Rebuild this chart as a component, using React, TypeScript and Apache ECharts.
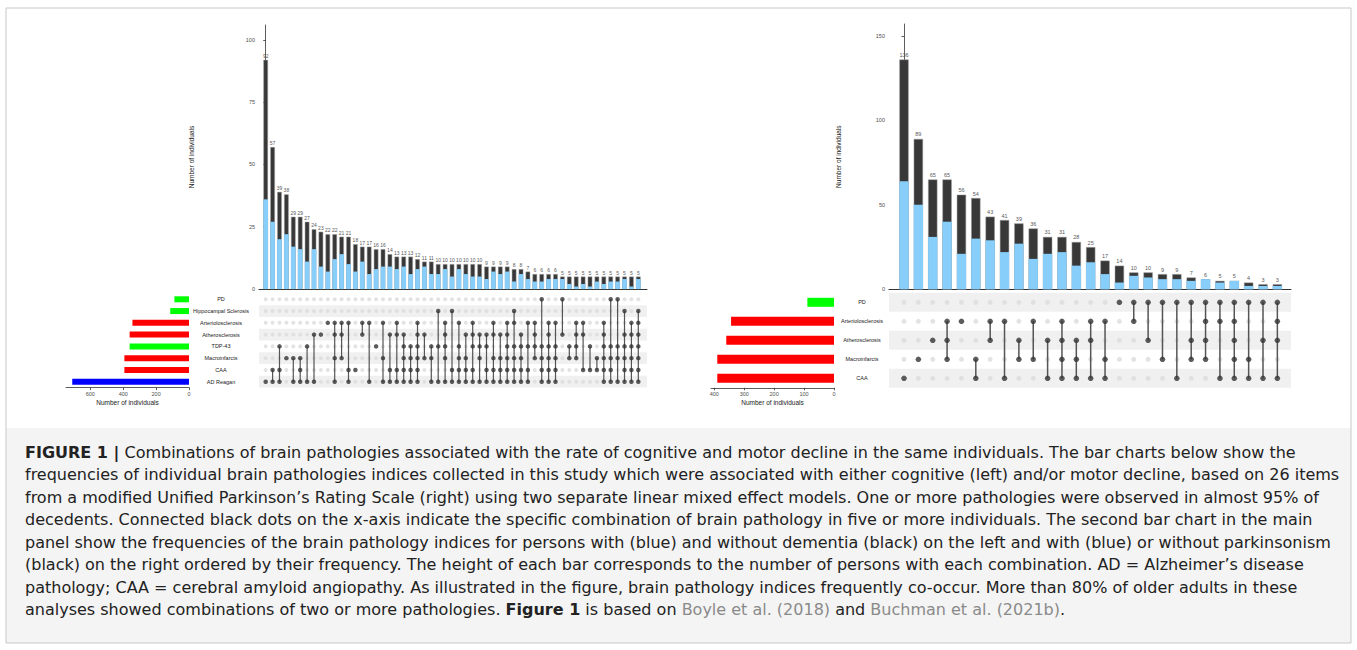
import React, { useEffect, useRef } from "react";
import * as echarts from "echarts";

// ---------- LEFT PANEL (cognitive decline) ----------
const leftSets = ["AD Reagan", "CAA", "Macroinfarcts", "TDP-43", "Atherosclerosis", "Arteriolosclerosis", "Hippocampal Sclerosis", "PD"];
const leftSetSizes = [710, 393, 393, 361, 361, 344, 114, 89];
const leftSetColors = ["#0000FF", "#FF0000", "#FF0000", "#00FF00", "#FF0000", "#FF0000", "#00FF00", "#00FF00"];
const leftTotals = [92, 57, 39, 38, 29, 29, 27, 24, 23, 22, 22, 21, 21, 18, 17, 17, 16, 16, 14, 13, 13, 13, 12, 11, 11,
  10, 10, 10, 10, 10, 10, 10, 9, 9, 9, 9, 8, 8, 7, 6, 6, 6, 6, 5, 5, 5, 5, 5, 5, 5, 5, 5, 5, 5, 5];
const leftWithDementia = [36, 27, 20, 22, 17, 16, 11, 16, 9, 7, 12, 14, 10, 7, 11, 6, 8, 9, 9, 8, 9, 6, 8, 9, 6,
  6, 8, 5, 8, 6, 5, 5, 4, 7, 6, 7, 3, 6, 4, 3, 3, 4, 4, 4, 2, 1, 2, 1, 3, 2, 3, 3, 4, 1, 4];
// set indices (0 = AD Reagan ... 7 = PD)
const leftCombos = [
  [0], [1, 0], [3, 1, 0], [2], [2, 0], [2, 1, 0], [3, 0], [4, 0], [4], [5],
  [5, 4, 2, 0], [5, 4, 2], [5, 1, 0], [1], [5, 4], [5, 0], [3], [5, 2, 0], [4, 1, 0], [5, 4, 1, 0],
  [4, 3, 2, 1, 0], [3, 2, 1, 0], [5, 4, 3, 2, 1, 0], [4, 2], [3, 2, 0], [6, 3, 0], [5, 4, 3, 2, 0], [6, 1, 0], [5, 3, 2, 1, 0], [4, 2, 1, 0],
  [5, 4, 3, 1, 0], [4, 3, 2, 0], [4, 3, 1, 0], [5, 4, 2, 1, 0], [4, 2, 1, 0], [5, 4, 3, 2, 1, 0], [6, 5, 3, 2, 1, 0], [4, 3, 2, 1, 0], [5, 3, 1, 0], [5, 4, 3, 2],
  [7, 3, 2, 1, 0], [5, 4, 3, 2, 1, 0], [5, 3, 2, 1, 0], [7, 4], [3, 2], [5, 4, 3, 2], [5, 4, 1], [3, 1], [2, 1], [5, 4, 3, 2, 1, 0],
  [7, 3, 2, 1, 0], [7, 3, 2, 0], [6, 4, 3, 2, 1, 0], [5, 4, 3, 2, 1, 0], [6, 5, 4, 3, 2, 1, 0],
];

// ---------- RIGHT PANEL (motor decline) ----------
const rightSets = ["CAA", "Macroinfarcts", "Atherosclerosis", "Arteriolosclerosis", "PD"];
const rightSetSizes = [390, 390, 360, 344, 89];
const rightSetColors = ["#FF0000", "#FF0000", "#FF0000", "#FF0000", "#00FF00"];
const rightTotals = [136, 89, 65, 65, 56, 54, 43, 41, 39, 36, 31, 31, 28, 25, 17, 14, 10, 10, 9, 9, 7, 6, 5, 5, 4, 3, 3];
const rightWithParkinsonism = [64, 50, 31, 40, 21, 30, 29, 22, 27, 18, 21, 22, 14, 16, 9, 4, 8, 7, 6, 6, 5, 6, 4, 5, 2, 2, 2];
// set indices (0 = CAA ... 4 = PD)
const rightCombos = [
  [0], [1], [2], [3, 2, 1], [3], [1, 0], [3, 2], [3, 0], [2, 1], [3, 1],
  [2, 0], [3, 2, 1, 0], [2, 1, 0], [3, 2, 0], [3, 1, 0], [4], [4, 3], [4, 2], [4, 1], [4, 0],
  [4, 2, 1], [4, 3, 2, 1], [4, 3, 0], [4, 3, 2, 1, 0], [4, 1, 0], [4, 2, 0], [4, 3, 2, 0],
];

const captionLines = [
  "{b|FIGURE 1 |} Combinations of brain pathologies associated with the rate of cognitive and motor decline in the same individuals. The bar charts below show the",
  "frequencies of individual brain pathologies indices collected in this study which were associated with either cognitive (left) and/or motor decline, based on 26 items",
  "from a modified Unified Parkinson\u2019s Rating Scale (right) using two separate linear mixed effect models. One or more pathologies were observed in almost 95% of",
  "decedents. Connected black dots on the x-axis indicate the specific combination of brain pathology in five or more individuals. The second bar chart in the main",
  "panel show the frequencies of the brain pathology indices for persons with (blue) and without dementia (black) on the left and with (blue) or without parkinsonism",
  "(black) on the right ordered by their frequency. The height of each bar corresponds to the number of persons with each combination. AD = Alzheimer\u2019s disease",
  "pathology; CAA = cerebral amyloid angiopathy. As illustrated in the figure, brain pathology indices frequently co-occur. More than 80% of older adults in these",
  "analyses showed combinations of two or more pathologies. {b|Figure 1} is based on {l|Boyle et al. (2018)} and {l|Buchman et al. (2021b)}.",
];

const FONT = "'Liberation Sans', Arial, sans-serif";
const CAP_FONT = "'DejaVu Sans', sans-serif";
const CAP_SIZE = 16;

type Geo = {
  left: number; width: number; topY: number; baseY: number; yMax: number; yTicks: number[];
  xMin: number; xMax: number; matTop: number; matH: number; ssLeft: number; ssW: number;
  ssMax: number; ssTicks: number[]; barW: number; dot: number; ssBarW: number; labelMargin: number;
  nameGap: number; lineW: number; valFont: number;
};

function panel(k: number, sets: string[], sizes: number[], colors: string[], totals: number[], blue: number[], combos: number[][], g: Geo) {
  const gi = k * 3;
  const grid = [
    { left: g.left, top: g.topY, width: g.width, height: g.baseY - g.topY },
    { left: g.left, top: g.matTop, width: g.width, height: g.matH },
    { left: g.ssLeft, top: g.matTop, width: g.ssW, height: g.matH },
  ];
  const tickLabel = { fontSize: 5.5, color: "#4d4d4d", fontFamily: FONT };
  const nameStyle = { fontSize: 6.5, color: "#1a1a1a", fontFamily: FONT };
  const xAxis = [
    { gridIndex: gi, type: "value", min: g.xMin, max: g.xMax, axisLine: { show: true, onZero: false, lineStyle: { color: "#333", width: 1 } }, axisTick: { show: false }, axisLabel: { show: false }, splitLine: { show: false } },
    { gridIndex: gi + 1, type: "value", min: g.xMin, max: g.xMax, show: false, splitLine: { show: false } },
    {
      gridIndex: gi + 2, type: "value", inverse: true, min: 0, max: g.ssMax,
      axisLine: { show: true, onZero: false, lineStyle: { color: "#333", width: 0.8 } },
      axisTick: { show: true, length: 2.5, customValues: g.ssTicks, lineStyle: { color: "#333", width: 0.8 } },
      axisLabel: { ...tickLabel, customValues: g.ssTicks, margin: 3 },
      splitLine: { show: false },
      name: "Number of individuals", nameLocation: "middle", nameGap: 11.5, nameTextStyle: nameStyle,
    },
  ];
  const yAxis = [
    {
      gridIndex: gi, type: "value", min: 0, max: g.yMax,
      axisLine: { show: true, lineStyle: { color: "#333", width: 0.8 } },
      axisTick: { show: true, length: 2.5, customValues: g.yTicks, lineStyle: { color: "#333", width: 0.8 } },
      axisLabel: { ...tickLabel, customValues: g.yTicks, margin: 4 },
      splitLine: { show: false },
      name: "Number of individuals", nameLocation: "middle", nameGap: g.nameGap, nameTextStyle: nameStyle,
    },
    {
      gridIndex: gi + 1, type: "category", data: sets,
      axisLine: { show: false }, axisTick: { show: false },
      axisLabel: { fontSize: 5.5, color: "#1a1a1a", fontFamily: FONT, align: "center", margin: g.labelMargin },
      splitLine: { show: false },
      splitArea: { show: true, areaStyle: { color: ["#f0f0f0", "rgba(255,255,255,0)"] } },
    },
    { gridIndex: gi + 2, type: "category", data: sets, show: false },
  ];
  const light: number[][] = [];
  const dark: number[][] = [];
  const lines: number[][] = [];
  combos.forEach((c, i) => {
    sets.forEach((_, r) => {
      if (c.includes(r)) dark.push([i, r]);
      else light.push([i, r]);
    });
    if (c.length > 1) lines.push([i, Math.min(...c), Math.max(...c)]);
  });
  const series: any[] = [
    {
      type: "bar", xAxisIndex: gi, yAxisIndex: gi, data: totals.map((v, i) => [i, v]),
      barWidth: g.barW, barGap: "-100%",
      itemStyle: { color: "#383838", borderColor: "#a0a0a0", borderWidth: 0.5 },
      label: { show: true, position: "top", distance: 1.5, fontSize: g.valFont, color: "#595959", fontFamily: FONT, formatter: (p: any) => String(p.value[1]) },
    },
    {
      type: "bar", xAxisIndex: gi, yAxisIndex: gi, data: blue.map((v, i) => [i, v]),
      barWidth: g.barW, barGap: "-100%", itemStyle: { color: "#87CEFA" },
    },
    {
      type: "scatter", xAxisIndex: gi + 1, yAxisIndex: gi + 1, data: light, symbolSize: g.dot,
      itemStyle: { color: "#dcdcdc" }, silent: true, z: 2,
    },
    {
      type: "custom", xAxisIndex: gi + 1, yAxisIndex: gi + 1, data: lines, z: 3, silent: true,
      encode: { x: 0, y: [1, 2] },
      renderItem: (_p: any, api: any) => {
        const a = api.coord([api.value(0), api.value(1)]);
        const b = api.coord([api.value(0), api.value(2)]);
        return { type: "line", shape: { x1: a[0], y1: a[1], x2: b[0], y2: b[1] }, style: { stroke: "#555", lineWidth: g.lineW } };
      },
    },
    {
      type: "scatter", xAxisIndex: gi + 1, yAxisIndex: gi + 1, data: dark, symbolSize: g.dot + 0.5,
      itemStyle: { color: "#333" }, silent: true, z: 4,
    },
    {
      type: "bar", xAxisIndex: gi + 2, yAxisIndex: gi + 2, barWidth: g.ssBarW,
      data: sizes.map((v, i) => ({ value: v, itemStyle: { color: colors[i] } })),
    },
  ];
  return { grid, xAxis, yAxis, series };
}

function buildOption() {
  const L = panel(0, leftSets, leftSetSizes, leftSetColors, leftTotals, leftWithDementia, leftCombos, {
    left: 259, width: 388, topY: 25, baseY: 289, yMax: 106, yTicks: [0, 25, 50, 75, 100],
    xMin: -0.97, xMax: 55.26, matTop: 293.4, matH: 94.2, ssLeft: 66, ssW: 123, ssMax: 748,
    ssTicks: [0, 200, 400, 600], barW: 4.6, dot: 4, ssBarW: 6, labelMargin: 38, nameGap: 64, lineW: 1.2, valFont: 5,
  });
  const R = panel(1, rightSets, rightSetSizes, rightSetColors, rightTotals, rightWithParkinsonism, rightCombos, {
    left: 889, width: 402, topY: 24, baseY: 289.3, yMax: 157, yTicks: [0, 50, 100, 150],
    xMin: -1.045, xMax: 26.95, matTop: 292.8, matH: 95, ssLeft: 711, ssW: 123, ssMax: 411,
    ssTicks: [0, 100, 200, 300, 400], barW: 9.3, dot: 5, ssBarW: 9, labelMargin: 27, nameGap: 47, lineW: 1.5, valFont: 5.5,
  });
  const graphic: any[] = [
    { type: "rect", shape: { x: 6, y: 428, width: 1345, height: 215 }, style: { fill: "#f4f4f4" }, z: -10 },
    { type: "rect", shape: { x: 6, y: 8, width: 1345, height: 635 }, style: { fill: "none", stroke: "#c8c8c8", lineWidth: 1 }, z: -9 },
  ];
  captionLines.forEach((t, i) => {
    graphic.push({
      type: "text", x: 25, y: 452 + i * 22.5,
      style: {
        text: t, fill: "#222", fontSize: CAP_SIZE, fontFamily: CAP_FONT, verticalAlign: "middle", align: "left",
        rich: {
          b: { fontWeight: "bold", fill: "#222", fontSize: CAP_SIZE, fontFamily: CAP_FONT },
          l: { fill: "#8a8a8a", fontSize: CAP_SIZE, fontFamily: CAP_FONT },
        },
      },
    });
  });
  return {
    animation: false,
    backgroundColor: "#fff",
    grid: [...L.grid, ...R.grid],
    xAxis: [...L.xAxis, ...R.xAxis],
    yAxis: [...L.yAxis, ...R.yAxis],
    series: [...L.series, ...R.series],
    graphic,
  };
}

export default function App() {
  const ref = useRef<HTMLDivElement>(null);
  useEffect(() => {
    const chart = echarts.init(ref.current!, undefined, { renderer: "svg" });
    chart.setOption(buildOption() as any);
    return () => chart.dispose();
  }, []);
  return <div ref={ref} style={{ position: "fixed", left: 0, top: 0, width: 1357, height: 650, background: "#fff" }} />;
}
